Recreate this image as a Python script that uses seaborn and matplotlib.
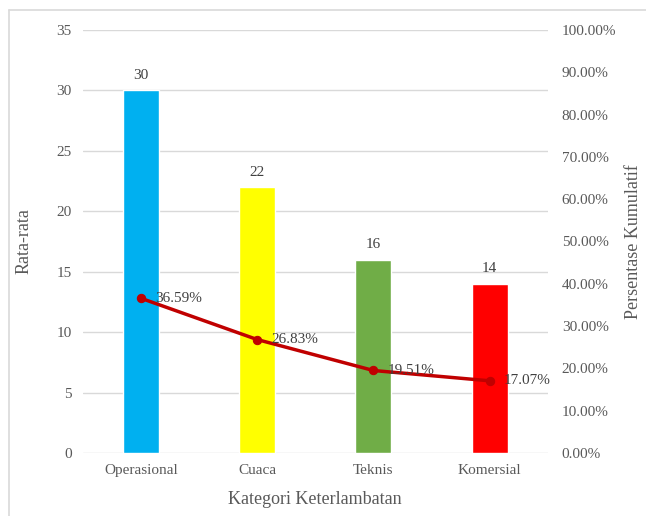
import numpy as np
import pandas as pd
import seaborn as sns
import matplotlib.pyplot as plt
from matplotlib.lines import Line2D
from matplotlib.ticker import PercentFormatter

# data
categories = ["Operasional", "Cuaca", "Teknis", "Komersial"]
rata_rata = [30, 22, 16, 14]
persen_kumulatif = [36.59, 26.83, 19.51, 17.07]
bar_colors = ["#00B0F0", "#FFFF00", "#70AD47", "#FF0000"]

sns.set_theme(style="white")
serif = ["Liberation Serif", "DejaVu Serif"]
plt.rcParams["font.family"] = serif
text_gray = "#595959"

df = pd.DataFrame({"kategori": categories, "rata": rata_rata})

fig = plt.figure(figsize=(6.46, 5.16), dpi=100)
ax = fig.add_axes([0.128, 0.122, 0.72, 0.820])

sns.barplot(data=df, x="kategori", y="rata", hue="kategori",
            palette=bar_colors, width=0.31, saturation=1, legend=False, ax=ax)
for i, v in enumerate(rata_rata):
    ax.annotate(str(v), (i, v), xytext=(0, 6), textcoords="offset points",
                ha="center", va="bottom", fontsize=11, color="#404040")

ax.set_ylim(0, 35)
ax.set_yticks(range(0, 36, 5))
ax.set_xticks(range(len(categories)))
ax.set_xticklabels(categories)
ax.set_xlim(-0.5, len(categories) - 0.5)
ax.yaxis.grid(True, color="#D9D9D9", linewidth=1)
ax.set_axisbelow(True)
for s in ax.spines.values():
    s.set_visible(False)
ax.tick_params(axis="both", length=0, labelsize=11, colors=text_gray, pad=8)
for lbl in ax.get_xticklabels() + ax.get_yticklabels():
    lbl.set_fontfamily(serif)
ax.set_xlabel("Kategori Keterlambatan", fontsize=13, color=text_gray, labelpad=10)
ax.set_ylabel("Rata-rata", fontsize=13, color=text_gray, labelpad=17)

# cumulative percentage line on the secondary axis
ax2 = ax.twinx()
sns.lineplot(x=np.arange(len(categories)), y=persen_kumulatif, ax=ax2,
             color="#C00000", linewidth=2.5, marker="o", markersize=6,
             markeredgecolor="#C00000")
for i, p in enumerate(persen_kumulatif):
    ax2.annotate(f"{p:.2f}%", (i, p), xytext=(10, 0), textcoords="offset points",
                 ha="left", va="center", fontsize=11, color="#404040")
ax2.set_ylim(0, 100)
ax2.set_yticks(range(0, 101, 10))
ax2.yaxis.set_major_formatter(PercentFormatter(decimals=2))
ax2.grid(False)
for s in ax2.spines.values():
    s.set_visible(False)
ax2.tick_params(axis="y", length=0, labelsize=11, colors=text_gray, pad=10)
ax2.set_ylabel("Persentase Kumulatif", fontsize=13, color=text_gray, labelpad=6)
ax2.set_xlim(-0.5, len(categories) - 0.5)

# light frame around the chart area
fig.add_artist(Line2D([9 / 646, 9 / 646], [0, 1 - 10 / 516],
                      transform=fig.transFigure, color="#D9D9D9", linewidth=1.2))
fig.add_artist(Line2D([9 / 646, 1], [1 - 10 / 516, 1 - 10 / 516],
                      transform=fig.transFigure, color="#D9D9D9", linewidth=1.2))

fig.savefig("out.png", dpi=100, facecolor="white")
